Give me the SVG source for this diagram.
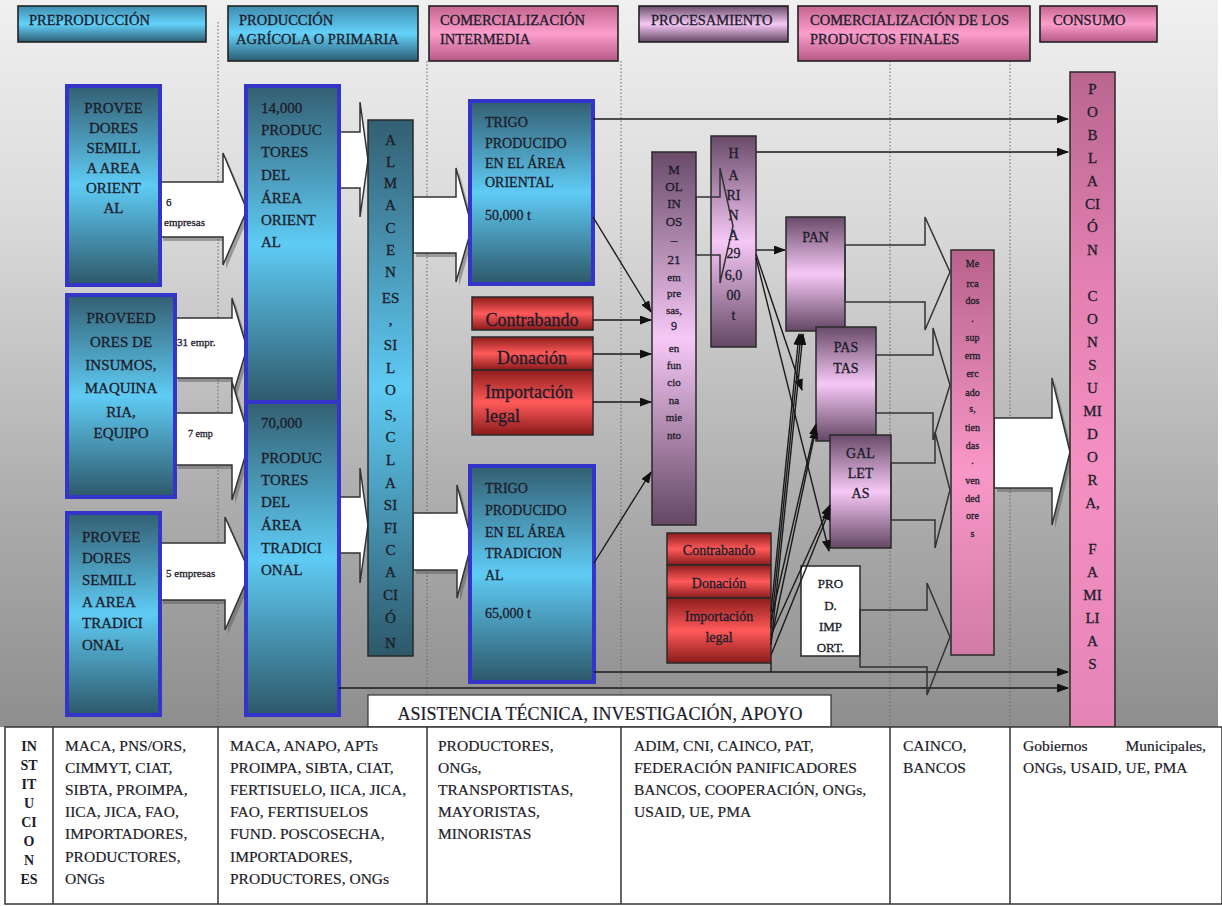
<svg xmlns="http://www.w3.org/2000/svg" width="1222" height="906" viewBox="0 0 1222 906" font-family="'Liberation Serif', 'DejaVu Serif', serif">
<defs>
<linearGradient id="gBg" x1="0" y1="0" x2="0" y2="1">
<stop offset="0" stop-color="#f0f0f0"/><stop offset="0.3" stop-color="#dadada"/><stop offset="0.7" stop-color="#acacac"/><stop offset="1" stop-color="#8e8e8e"/>
</linearGradient>
<linearGradient id="gBlue" x1="0" y1="0" x2="0" y2="1">
<stop offset="0" stop-color="#335f72"/><stop offset="0.5" stop-color="#5fcbf4"/><stop offset="1" stop-color="#2d586a"/>
</linearGradient>
<linearGradient id="gBlueH" x1="0" y1="0" x2="0" y2="1">
<stop offset="0" stop-color="#3f8cae"/><stop offset="0.5" stop-color="#64d2fb"/><stop offset="1" stop-color="#2c5d72"/>
</linearGradient>
<linearGradient id="gPinkH" x1="0" y1="0" x2="0" y2="1">
<stop offset="0" stop-color="#c4648f"/><stop offset="0.5" stop-color="#fd9ecd"/><stop offset="1" stop-color="#b45884"/>
</linearGradient>
<linearGradient id="gPurp" x1="0" y1="0" x2="0" y2="1">
<stop offset="0" stop-color="#694b69"/><stop offset="0.5" stop-color="#f6c8f6"/><stop offset="1" stop-color="#634763"/>
</linearGradient>
<linearGradient id="gRed" x1="0" y1="0" x2="0" y2="1">
<stop offset="0" stop-color="#8e1c1c"/><stop offset="0.5" stop-color="#ff5a5a"/><stop offset="1" stop-color="#8a1a1a"/>
</linearGradient>
<linearGradient id="gPop" x1="0" y1="0" x2="0" y2="1">
<stop offset="0" stop-color="#b9668f"/><stop offset="0.3" stop-color="#e07fb0"/><stop offset="0.6" stop-color="#f590c2"/><stop offset="1" stop-color="#e485b6"/>
</linearGradient>
<linearGradient id="gMerc" x1="0" y1="0" x2="0" y2="1">
<stop offset="0" stop-color="#b8628c"/><stop offset="0.55" stop-color="#f898c8"/><stop offset="1" stop-color="#d27aa6"/>
</linearGradient>
<marker id="ah" markerWidth="12" markerHeight="9" refX="11" refY="4.5" orient="auto" markerUnits="userSpaceOnUse">
<path d="M0,0 L12,4.5 L0,9 z" fill="#111"/>
</marker>
</defs>
<style>
text{font-family:'Liberation Serif','DejaVu Serif',serif}
.t{fill:#1c1c2a;stroke:#1c1c2a;stroke-width:0.3}
.h{font-size:14.5px}
.f15{font-size:15px}
.f14{font-size:14px}
.f13{font-size:13px}
.f12{font-size:12px}
.f11{font-size:11px}
.f10{font-size:10px}
.tt{font-size:15.5px;stroke-width:0.2}
.bd{font-weight:bold}
.c{text-anchor:middle}
.hb{stroke:#222;stroke-width:1.6}
.bx{stroke:#3434c8;stroke-width:4}
.dk{stroke:#2a2a2a;stroke-width:1.5}
.ln{stroke:#1a1a1a;stroke-width:1.4;fill:none}
.wa{fill:#fff;stroke:#333;stroke-width:1.5}
.sh{fill:#555;opacity:0.45}
.oa{fill:none;stroke:#333;stroke-width:1.5}
.dot{stroke:#666;stroke-width:1;stroke-dasharray:1.5 2}
.tb{fill:#fff;stroke:#333;stroke-width:1.5}
</style>

<rect x="0" y="0" width="1218" height="727" fill="url(#gBg)"/>
<rect x="1218" y="0" width="4" height="727" fill="#ffffff"/>

<g id="separators">
<line class="dot" x1="218" y1="22" x2="218" y2="727"/>
<line class="dot" x1="427" y1="61" x2="427" y2="727"/>
<line class="dot" x1="621" y1="61" x2="621" y2="727"/>
<line class="dot" x1="890" y1="61" x2="890" y2="727"/>
<line class="dot" x1="1010" y1="61" x2="1010" y2="727"/>
</g>

<g id="hdr-preproduccion"><rect x="18" y="6" width="188" height="36" fill="url(#gBlueH)" class="hb"/><text class="t h" x="29" y="25">PREPRODUCCIÓN</text></g>
<g id="hdr-produccion"><rect x="228" y="6" width="190" height="55" fill="url(#gBlueH)" class="hb"/><text class="t h" x="239" y="25">PRODUCCIÓN</text><text class="t h" x="236" y="44">AGRÍCOLA O PRIMARIA</text></g>
<g id="hdr-comint"><rect x="429" y="6" width="189" height="55" fill="url(#gPinkH)" class="hb"/><text class="t h" x="440" y="25">COMERCIALIZACIÓN</text><text class="t h" x="440" y="44">INTERMEDIA</text></g>
<g id="hdr-procesamiento"><rect x="639" y="6" width="149" height="36" fill="url(#gPurp)" class="hb"/><text class="t h" x="651" y="25">PROCESAMIENTO</text></g>
<g id="hdr-comfinal"><rect x="798" y="6" width="232" height="55" fill="url(#gPinkH)" class="hb"/><text class="t h" x="810" y="25">COMERCIALIZACIÓN DE LOS</text><text class="t h" x="810" y="44">PRODUCTOS FINALES</text></g>
<g id="hdr-consumo"><rect x="1040" y="6" width="117" height="36" fill="url(#gPinkH)" class="hb"/><text class="t h" x="1053" y="25">CONSUMO</text></g>

<g id="block-arrows">
<polygon class="sh" points="163,186 226,186 226,157 250,214 226,269 226,241 163,241"/>
<polygon class="wa" points="160,182 223,182 223,153 247,210 223,265 223,237 160,237"/>
<polygon class="sh" points="178,322 235,322 235,302 250,352 235,402 235,382 178,382"/>
<polygon class="wa" points="175,318 232,318 232,298 247,348 232,398 232,378 175,378"/>
<polygon class="sh" points="178,417 235,417 235,386 253,444 235,504 235,469 178,469"/>
<polygon class="wa" points="175,413 232,413 232,382 250,440 232,500 232,465 175,465"/>
<polygon class="sh" points="163,547 228,547 228,521 253,577 228,634 228,604 163,604"/>
<polygon class="wa" points="160,543 225,543 225,517 250,573 225,630 225,600 160,600"/>
<polygon class="wa" points="339,132 360,132 360,102 368,160 360,217 360,188 339,188"/>
<polygon class="wa" points="339,497 360,497 360,468 368,525 360,583 360,553 339,553"/>
<polygon class="sh" points="416,201 459,201 459,172 475,231 459,286 459,257 416,257"/>
<polygon class="wa" points="413,197 456,197 456,168 472,227 456,282 456,253 413,253"/>
<polygon class="sh" points="416,517 460,517 460,489 475,546 460,602 460,574 416,574"/>
<polygon class="wa" points="413,513 457,513 457,485 472,542 457,598 457,570 413,570"/>
<polygon class="sh" points="997,422 1055,422 1055,382 1073,456 1055,529 1055,492 997,492"/>
<polygon class="wa" points="994,418 1052,418 1052,378 1070,452 1052,525 1052,488 994,488"/>
<text class="t f11" x="166" y="206">6</text>
<text class="t f11" x="164" y="226">empresas</text>
<text class="t f11" x="177" y="346">31 empr.</text>
<text class="t f10" x="188" y="437">7 emp</text>
<text class="t f11" x="166" y="577">5 empresas</text>
</g>

<g id="prov-semilla-oriental"><rect x="67" y="86" width="93" height="199" fill="url(#gBlue)" class="bx"/>
<text class="t f15 c" x="113.5" y="113">PROVEE</text><text class="t f15 c" x="113.5" y="133">DORES</text><text class="t f15 c" x="113.5" y="153">SEMILL</text><text class="t f15 c" x="113.5" y="173">A AREA</text><text class="t f15 c" x="113.5" y="193">ORIENT</text><text class="t f15 c" x="113.5" y="213">AL</text></g>
<g id="prov-insumos"><rect x="67" y="295" width="108" height="202" fill="url(#gBlue)" class="bx"/>
<text class="t f15 c" x="121" y="323">PROVEED</text><text class="t f15 c" x="121" y="347">ORES DE</text><text class="t f15 c" x="121" y="370">INSUMOS,</text><text class="t f15 c" x="121" y="393">MAQUINA</text><text class="t f15 c" x="121" y="417">RIA,</text><text class="t f15 c" x="121" y="438">EQUIPO</text></g>
<g id="prov-semilla-tradicional"><rect x="67" y="513" width="93" height="202" fill="url(#gBlue)" class="bx"/>
<text class="t f15" x="82" y="542">PROVEE</text><text class="t f15" x="82" y="563">DORES</text><text class="t f15" x="82" y="585">SEMILL</text><text class="t f15" x="82" y="607">A AREA</text><text class="t f15" x="82" y="628">TRADICI</text><text class="t f15" x="82" y="650">ONAL</text></g>

<g id="productores-oriental"><rect x="246" y="86" width="93" height="318" fill="url(#gBlue)" class="bx"/>
<text class="t f15" x="261" y="113">14,000</text><text class="t f15" x="261" y="135">PRODUC</text><text class="t f15" x="261" y="157">TORES</text><text class="t f15" x="261" y="180">DEL</text><text class="t f15" x="261" y="203">ÁREA</text><text class="t f15" x="261" y="225">ORIENT</text><text class="t f15" x="261" y="247">AL</text></g>
<g id="productores-tradicional"><rect x="246" y="402" width="93" height="313" fill="url(#gBlue)" class="bx"/>
<text class="t f15" x="261" y="428">70,000</text><text class="t f15" x="261" y="463">PRODUC</text><text class="t f15" x="261" y="485">TORES</text><text class="t f15" x="261" y="507">DEL</text><text class="t f15" x="261" y="530">ÁREA</text><text class="t f15" x="261" y="553">TRADICI</text><text class="t f15" x="261" y="575">ONAL</text></g>

<g id="almacenes"><rect x="368" y="120" width="45" height="536" fill="url(#gBlue)" class="dk"/>
<g class="t f15 c">
<text x="390.5" y="145">A</text><text x="390.5" y="167">L</text><text x="390.5" y="188">M</text><text x="390.5" y="210">A</text><text x="390.5" y="233">C</text><text x="390.5" y="255">E</text><text x="390.5" y="277">N</text><text x="390.5" y="303">ES</text><text x="390.5" y="325">,</text><text x="390.5" y="350">SI</text><text x="390.5" y="373">L</text><text x="390.5" y="395">O</text><text x="390.5" y="420">S,</text><text x="390.5" y="442">C</text><text x="390.5" y="465">L</text><text x="390.5" y="488">A</text><text x="390.5" y="510">SI</text><text x="390.5" y="533">FI</text><text x="390.5" y="555">C</text><text x="390.5" y="577">A</text><text x="390.5" y="600">CI</text><text x="390.5" y="623">Ó</text><text x="390.5" y="648">N</text>
</g></g>

<g id="trigo-oriental"><rect x="470" y="101" width="123" height="183" fill="url(#gBlue)" class="bx"/>
<text class="t f14" x="485" y="127">TRIGO</text><text class="t f14" x="485" y="148">PRODUCIDO</text><text class="t f14" x="485" y="168">EN EL ÁREA</text><text class="t f14" x="485" y="187">ORIENTAL</text><text class="t f14" x="485" y="220">50,000 t</text></g>
<g id="contrabando-1"><rect x="472" y="297" width="121" height="33" fill="url(#gRed)" class="dk"/><text class="t c" style="font-size:18px" x="532" y="326">Contrabando</text></g>
<g id="donacion-1"><rect x="472" y="337" width="121" height="33" fill="url(#gRed)" class="dk"/><text class="t c" style="font-size:18px" x="532" y="364">Donación</text></g>
<g id="importacion-1"><rect x="472" y="370" width="121" height="65" fill="url(#gRed)" class="dk"/><text class="t" style="font-size:18px" x="485" y="398">Importación</text><text class="t" style="font-size:18px" x="485" y="422">legal</text></g>
<g id="trigo-tradicional"><rect x="470" y="466" width="124" height="216" fill="url(#gBlue)" class="bx"/>
<text class="t f14" x="485" y="493">TRIGO</text><text class="t f14" x="485" y="515">PRODUCIDO</text><text class="t f14" x="485" y="537">EN EL  ÁREA</text><text class="t f14" x="485" y="558">TRADICION</text><text class="t f14" x="485" y="580">AL</text><text class="t f14" x="485" y="618">65,000 t</text></g>

<g id="molinos"><rect x="652" y="152" width="44" height="373" fill="url(#gPurp)" class="dk"/>
<g class="t c">
<text class="f13" x="674" y="174">M</text><text class="f13" x="674" y="191">OL</text><text class="f13" x="674" y="208">IN</text><text class="f13" x="674" y="226">OS</text><text class="f13" x="674" y="244">–</text><text class="f13" x="674" y="264">21</text><text class="f11" x="674" y="281">em</text><text class="f11" x="674" y="297">pre</text><text class="f11" x="674" y="314">sas,</text><text class="f12" x="674" y="330">9</text><text class="f11" x="674" y="352">en</text><text class="f11" x="674" y="369">fun</text><text class="f11" x="674" y="386">cio</text><text class="f11" x="674" y="404">na</text><text class="f11" x="674" y="421">mie</text><text class="f11" x="674" y="439">nto</text>
</g></g>
<g id="harina"><rect x="711" y="136" width="45" height="211" fill="url(#gPurp)" class="dk"/>
<g class="t f14 c">
<text x="733.5" y="158">H</text><text x="733.5" y="180">A</text><text x="733.5" y="200">RI</text><text x="733.5" y="220">N</text><text x="733.5" y="240">A</text><text x="733.5" y="258">29</text><text x="733.5" y="280">6,0</text><text x="733.5" y="300">00</text><text x="733.5" y="320">t</text>
</g></g>
<g id="pan"><rect x="786" y="217" width="59" height="114" fill="url(#gPurp)" class="dk"/><text class="t f14 c" x="815.5" y="242">PAN</text></g>
<g id="pastas"><rect x="816" y="327" width="60" height="114" fill="url(#gPurp)" class="dk"/><text class="t f14 c" x="846" y="352">PAS</text><text class="t f14 c" x="846" y="373">TAS</text></g>
<g id="galletas"><rect x="830" y="435" width="61" height="113" fill="url(#gPurp)" class="dk"/><text class="t f14 c" x="860.5" y="458">GAL</text><text class="t f14 c" x="860.5" y="478">LET</text><text class="t f14 c" x="860.5" y="498">AS</text></g>
<g id="prod-import"><rect x="801" y="566" width="59" height="90" fill="#ffffff" class="dk"/><text class="t f13 c" x="830.5" y="588">PRO</text><text class="t f13 c" x="830.5" y="610">D.</text><text class="t f13 c" x="830.5" y="631">IMP</text><text class="t f13 c" x="830.5" y="652">ORT.</text></g>
<g id="contrabando-2"><rect x="667" y="533" width="104" height="32" fill="url(#gRed)" class="dk"/><text class="t f14 c" x="719" y="555">Contrabando</text></g>
<g id="donacion-2"><rect x="667" y="565" width="104" height="33" fill="url(#gRed)" class="dk"/><text class="t f14 c" x="719" y="588">Donación</text></g>
<g id="importacion-2"><rect x="667" y="598" width="104" height="65" fill="url(#gRed)" class="dk"/><text class="t f14 c" x="719" y="621">Importación</text><text class="t f14 c" x="719" y="642">legal</text></g>

<g id="mercados"><rect x="951" y="250" width="43" height="405" fill="url(#gMerc)" class="dk"/>
<g class="t f10 c">
<text x="972.5" y="267">Me</text><text x="972.5" y="287">rca</text><text x="972.5" y="304">dos</text><text x="972.5" y="322">.</text><text x="972.5" y="341">sup</text><text x="972.5" y="359">erm</text><text x="972.5" y="377">erc</text><text x="972.5" y="396">ado</text><text x="972.5" y="412">s,</text><text x="972.5" y="431">tien</text><text x="972.5" y="449">das</text><text x="972.5" y="464">.</text><text x="972.5" y="484">ven</text><text x="972.5" y="502">ded</text><text x="972.5" y="519">ore</text><text x="972.5" y="537">s</text>
</g></g>

<g id="poblacion"><rect x="1070" y="72" width="45" height="655" fill="url(#gPop)" class="dk"/>
<g class="t f15 c">
<text x="1092.5" y="94">P</text><text x="1092.5" y="117">O</text><text x="1092.5" y="140">B</text><text x="1092.5" y="163">L</text><text x="1092.5" y="186">A</text><text x="1092.5" y="209">CI</text><text x="1092.5" y="232">Ó</text><text x="1092.5" y="255">N</text>
<text x="1092.5" y="301">C</text><text x="1092.5" y="324">O</text><text x="1092.5" y="347">N</text><text x="1092.5" y="370">S</text><text x="1092.5" y="393">U</text><text x="1092.5" y="416">MI</text><text x="1092.5" y="439">D</text><text x="1092.5" y="462">O</text><text x="1092.5" y="485">R</text><text x="1092.5" y="508">A,</text>
<text x="1092.5" y="554">F</text><text x="1092.5" y="577">A</text><text x="1092.5" y="600">MI</text><text x="1092.5" y="623">LI</text><text x="1092.5" y="646">A</text><text x="1092.5" y="669">S</text>
</g></g>

<g id="connectors">
<polyline class="ln" points="593,119 1068,119" marker-end="url(#ah)"/>
<polyline class="ln" points="756,152 1068,152" marker-end="url(#ah)"/>
<polyline class="ln" points="594,672 1068,672" marker-end="url(#ah)"/>
<polyline class="ln" points="339,688 1068,688" marker-end="url(#ah)"/>
<line class="ln" x1="593" y1="217" x2="651" y2="312" marker-end="url(#ah)"/>
<line class="ln" x1="593" y1="320" x2="651" y2="320" marker-end="url(#ah)"/>
<line class="ln" x1="593" y1="354" x2="651" y2="354" marker-end="url(#ah)"/>
<line class="ln" x1="593" y1="402" x2="651" y2="402" marker-end="url(#ah)"/>
<line class="ln" x1="594" y1="563" x2="651" y2="472" marker-end="url(#ah)"/>
<line class="ln" x1="756" y1="250" x2="785" y2="250" marker-end="url(#ah)"/>
<line class="ln" x1="756" y1="254" x2="802" y2="390" marker-end="url(#ah)"/>
<line class="ln" x1="756" y1="258" x2="829" y2="551" marker-end="url(#ah)"/>
<line class="ln" x1="771" y1="612" x2="799" y2="334" marker-end="url(#ah)"/>
<line class="ln" x1="771" y1="628" x2="801" y2="334" marker-end="url(#ah)"/>
<line class="ln" x1="771" y1="645" x2="803" y2="334" marker-end="url(#ah)"/>
<line class="ln" x1="771" y1="620" x2="816" y2="424" marker-end="url(#ah)"/>
<line class="ln" x1="771" y1="640" x2="816" y2="428" marker-end="url(#ah)"/>
<line class="ln" x1="771" y1="635" x2="830" y2="505" marker-end="url(#ah)"/>
<line class="ln" x1="771" y1="655" x2="830" y2="509" marker-end="url(#ah)"/>
<line class="ln" x1="771" y1="663" x2="771" y2="672"/>
<polygon class="oa" points="696,197 720,197 720,168 733,226 720,283 720,255 696,255"/>
<polygon class="oa" points="845,245 925,245 925,217 950,272 925,330 925,302 845,302"/>
<polygon class="oa" points="876,355 933,355 933,328 950,385 933,440 933,413 876,413"/>
<polygon class="oa" points="891,463 935,463 935,432 950,490 935,548 935,520 891,520"/>
<polygon class="oa" points="860,610 927,610 927,583 950,637 927,695 927,667 860,667"/>
</g>

<g id="asistencia"><rect x="368" y="695" width="463" height="32" fill="#ffffff" stroke="#333" stroke-width="1.2"/><text class="t c" style="font-size:18px;stroke-width:0.2" x="600" y="720">ASISTENCIA TÉCNICA, INVESTIGACIÓN, APOYO</text></g>

<g id="instituciones-table">
<rect x="5" y="727" width="1217" height="177" class="tb"/>
<line x1="53" y1="727" x2="53" y2="904" stroke="#333" stroke-width="1.5"/>
<line x1="218" y1="727" x2="218" y2="904" stroke="#333" stroke-width="1.5"/>
<line x1="427" y1="727" x2="427" y2="904" stroke="#333" stroke-width="1.5"/>
<line x1="621" y1="727" x2="621" y2="904" stroke="#333" stroke-width="1.5"/>
<line x1="890" y1="727" x2="890" y2="904" stroke="#333" stroke-width="1.5"/>
<line x1="1010" y1="727" x2="1010" y2="904" stroke="#333" stroke-width="1.5"/>
<g class="t f14 c bd" style="stroke-width:0">
<text x="29" y="751">IN</text><text x="29" y="770">ST</text><text x="29" y="789">IT</text><text x="29" y="808">U</text><text x="29" y="827">CI</text><text x="29" y="846">O</text><text x="29" y="865">N</text><text x="29" y="884">ES</text>
</g>
<g class="t tt">
<text x="65" y="751">MACA, PNS/ORS,</text><text x="65" y="773">CIMMYT, CIAT,</text><text x="65" y="795">SIBTA, PROIMPA,</text><text x="65" y="817">IICA,  JICA, FAO,</text><text x="65" y="839">IMPORTADORES,</text><text x="65" y="862">PRODUCTORES,</text><text x="65" y="884">ONGs</text>
<text x="230" y="751">MACA, ANAPO,  APTs</text><text x="230" y="773">PROIMPA, SIBTA, CIAT,</text><text x="230" y="795">FERTISUELO, IICA,  JICA,</text><text x="230" y="817">FAO, FERTISUELOS</text><text x="230" y="839">FUND. POSCOSECHA,</text><text x="230" y="862">IMPORTADORES,</text><text x="230" y="884">PRODUCTORES, ONGs</text>
<text x="438" y="751">PRODUCTORES,</text><text x="438" y="773">ONGs,</text><text x="438" y="795">TRANSPORTISTAS,</text><text x="438" y="817">MAYORISTAS,</text><text x="438" y="839">MINORISTAS</text>
<text x="634" y="751">ADIM,  CNI, CAINCO,  PAT,</text><text x="634" y="773">FEDERACIÓN  PANIFICADORES</text><text x="634" y="795">BANCOS, COOPERACIÓN,  ONGs,</text><text x="634" y="817">USAID,  UE, PMA</text>
<text x="903" y="751">CAINCO,</text><text x="903" y="773">BANCOS</text>
<text x="1023" y="751">Gobiernos</text><text x="1206" y="751" text-anchor="end">Municipales,</text><text x="1023" y="773">ONGs, USAID, UE, PMA</text>
</g>
</g>
</svg>
